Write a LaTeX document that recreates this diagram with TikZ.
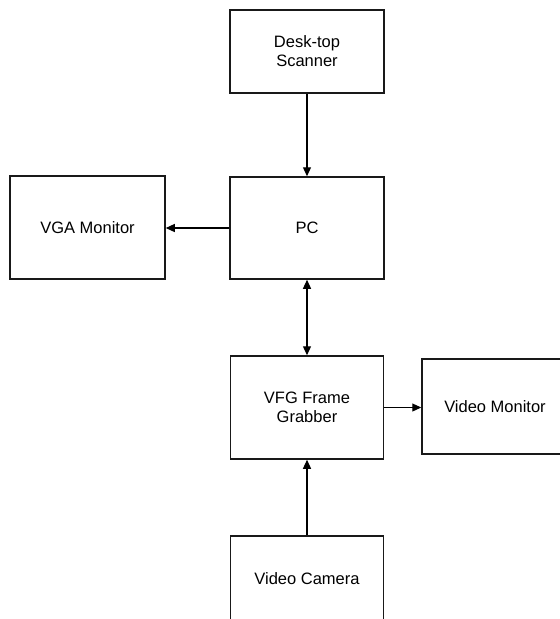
\documentclass[tikz,border=0pt]{standalone}
\usepackage{fontspec}
\setmainfont{Liberation Sans}
\usetikzlibrary{arrows.meta}

\begin{document}
\begin{tikzpicture}[x=1pt,y=-1pt,
  blockbox/.style={draw=black!90, line width=1.5pt, minimum width=154pt,
    align=center, font=\fontsize{16.5}{19}\selectfont, inner sep=0pt},
  arr/.style={line width=1.2pt, -{Triangle[length=9pt,width=8pt]}},
  darr/.style={line width=1.2pt, {Triangle[length=9pt,width=8pt]}-{Triangle[length=9pt,width=8pt]}}]
  \useasboundingbox (0,0) rectangle (560,619);
  \clip (0,0) rectangle (560,619);

  % blocks
  \node[blockbox, minimum height=83pt] (scan) at (307,51.5) {Desk-top\\Scanner};
  \node[blockbox, minimum height=102pt] (pc) at (307,228) {PC};
  \node[blockbox, minimum height=103pt, minimum width=155pt] (vga) at (87.5,227.5) {VGA Monitor};
  \node[blockbox, minimum height=103pt, minimum width=153pt] (vfg) at (307,407.5) {VFG Frame\\Grabber};
  \node[blockbox, minimum height=95pt, minimum width=146pt] (vm) at (495,406.5) {Video Monitor};
  \node[blockbox, minimum height=86pt, minimum width=153pt] (cam) at (307,579) {Video Camera};

  % connections
  \draw[arr] (scan.south) -- (pc.north);
  \draw[arr] (pc.west) -- (pc.west -| vga.east);
  \draw[darr] (pc.south) -- (vfg.north);
  \draw[arr] (vfg.east) -- (vfg.east -| vm.west);
  \draw[arr] (cam.north) -- (vfg.south);
\end{tikzpicture}
\end{document}
